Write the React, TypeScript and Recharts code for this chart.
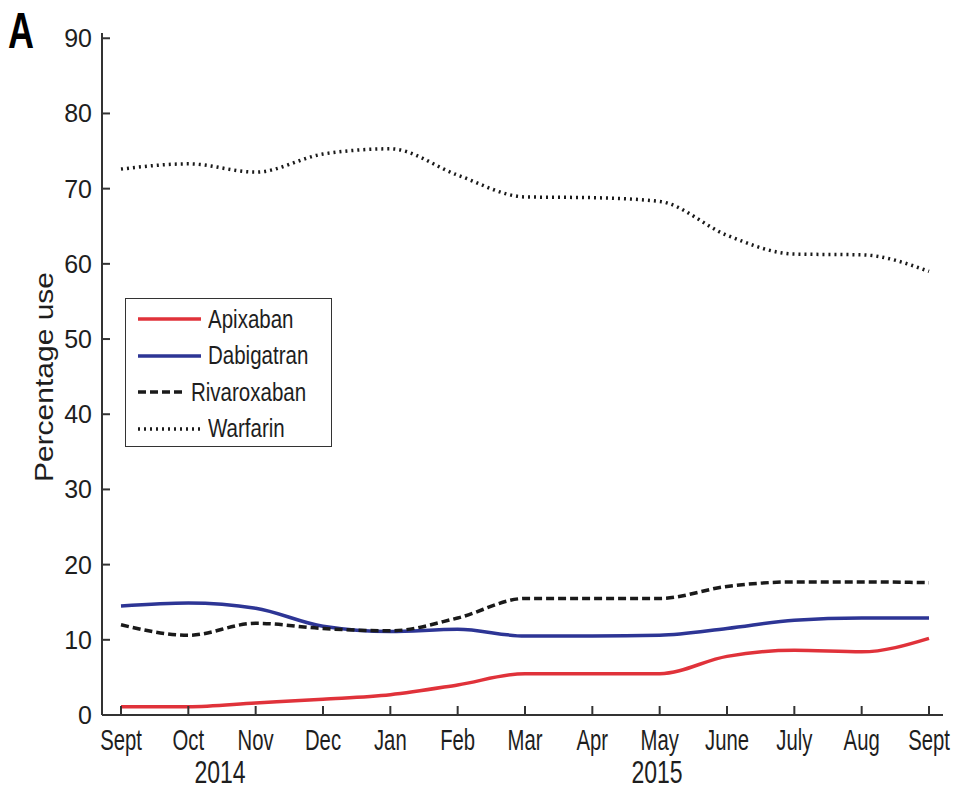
import { Legend, Line, LineChart, XAxis, YAxis } from 'recharts';

const months = ['Sept', 'Oct', 'Nov', 'Dec', 'Jan', 'Feb', 'Mar', 'Apr', 'May', 'June', 'July', 'Aug', 'Sept'];
const apixaban = [1.1, 1.1, 1.6, 2.1, 2.7, 4.0, 5.5, 5.5, 5.5, 7.8, 8.6, 8.4, 10.2];
const dabigatran = [14.5, 14.9, 14.2, 11.8, 11.1, 11.4, 10.5, 10.5, 10.6, 11.5, 12.6, 12.9, 12.9];
const rivaroxaban = [12.0, 10.6, 12.2, 11.5, 11.2, 12.9, 15.5, 15.5, 15.5, 17.1, 17.7, 17.7, 17.6];
const warfarin = [72.6, 73.3, 72.2, 74.6, 75.3, 71.8, 68.9, 68.8, 68.3, 63.8, 61.3, 61.2, 59.0];
const yTicks = [0, 10, 20, 30, 40, 50, 60, 70, 80, 90];
const years = [
  { label: '2014', x: 220 },
  { label: '2015', x: 657 },
];

const series = [
  { key: 'Apixaban', color: '#e0323a', dash: undefined as string | undefined },
  { key: 'Dabigatran', color: '#2d3595', dash: undefined as string | undefined },
  { key: 'Rivaroxaban', color: '#1a1a1a', dash: '8 4' },
  { key: 'Warfarin', color: '#1a1a1a', dash: '2 4' },
];

const data = months.map((m, i) => ({
  month: m,
  Apixaban: apixaban[i],
  Dabigatran: dabigatran[i],
  Rivaroxaban: rivaroxaban[i],
  Warfarin: warfarin[i],
}));

const FONT = "'Liberation Sans', Arial, sans-serif";
const AXIS = '#333';
const TEXT = '#1e1e1e';

function MonthTick({ x, y, payload }: any) {
  return (
    <g>
      <line x1={x} y1={y} x2={x} y2={y - 9} stroke={AXIS} strokeWidth={2} />
      <text
        transform={`translate(${x},${y + 35}) scale(0.7,1)`}
        textAnchor="middle"
        fontSize={29}
        fontFamily={FONT}
        fill={TEXT}
      >
        {payload.value}
      </text>
    </g>
  );
}

function PctTick({ x, y, payload }: any) {
  return (
    <g>
      <line x1={x} y1={y} x2={x + 8} y2={y} stroke={AXIS} strokeWidth={2} />
      <text x={x - 10} y={y} dy="0.36em" textAnchor="end" fontSize={25} fontFamily={FONT} fill={TEXT}>
        {payload.value}
      </text>
    </g>
  );
}

function LegendBox({ payload }: any) {
  return (
    <div
      style={{
        width: 207,
        height: 149,
        border: '1.5px solid #333',
        background: '#fff',
        paddingTop: 2,
        boxSizing: 'border-box',
        fontFamily: FONT,
      }}
    >
      {(payload || []).map((p: any) => {
        const s = series.find((d) => d.key === p.value);
        return (
          <div key={p.value} style={{ height: 36.5, display: 'flex', alignItems: 'center', paddingLeft: 12 }}>
            <svg width={63} height={10}>
              <line x1={0} y1={5} x2={63} y2={5} stroke={s?.color} strokeWidth={3.5} strokeDasharray={s?.dash} />
            </svg>
            <span
              style={{
                display: 'inline-block',
                marginLeft: 7,
                fontSize: 25,
                color: TEXT,
                transform: 'scaleX(0.82)',
                transformOrigin: 'left center',
                whiteSpace: 'nowrap',
              }}
            >
              {p.value}
            </span>
          </div>
        );
      })}
    </div>
  );
}

export default function App() {
  return (
    <div style={{ position: 'absolute', left: 0, top: 0, width: 953, height: 791, background: '#fff' }}>
      <LineChart width={953} height={791} data={data} margin={{ top: 33, right: 10, bottom: 16, left: 42 }}>
        <XAxis
          dataKey="month"
          height={60}
          padding={{ left: 19, right: 14 }}
          axisLine={{ stroke: AXIS, strokeWidth: 2 }}
          tickLine={false}
          tickSize={0}
          tickMargin={0}
          interval={0}
          tick={<MonthTick />}
        />
        <YAxis
          width={60}
          domain={[0, 90.7]}
          ticks={yTicks}
          axisLine={{ stroke: AXIS, strokeWidth: 2 }}
          tickLine={false}
          tickSize={0}
          tickMargin={0}
          tick={<PctTick />}
        />
        <Legend
          layout="vertical"
          align="center"
          verticalAlign="middle"
          wrapperStyle={{ left: 125, top: 298, width: 210 }}
          content={<LegendBox />}
        />
        {series.map((s) => (
          <Line
            key={s.key}
            dataKey={s.key}
            type="monotone"
            stroke={s.color}
            strokeWidth={3.5}
            strokeDasharray={s.dash}
            dot={false}
            activeDot={false}
            isAnimationActive={false}
          />
        ))}
      </LineChart>
      <svg
        width={953}
        height={791}
        style={{ position: 'absolute', left: 0, top: 0, pointerEvents: 'none' }}
      >
        <text
          transform="translate(8,48) scale(0.72,1)"
          fontSize={50}
          fontWeight="bold"
          fontFamily={FONT}
          fill="#000"
        >
          A
        </text>
        <text
          transform="translate(53,377) rotate(-90) scale(1.2,1)"
          textAnchor="middle"
          fontSize={25}
          fontFamily={FONT}
          fill={TEXT}
        >
          Percentage use
        </text>
        {years.map((yr) => (
          <text
            key={yr.label}
            transform={`translate(${yr.x},783) scale(0.72,1)`}
            textAnchor="middle"
            fontSize={32}
            fontFamily={FONT}
            fill={TEXT}
          >
            {yr.label}
          </text>
        ))}
      </svg>
    </div>
  );
}
